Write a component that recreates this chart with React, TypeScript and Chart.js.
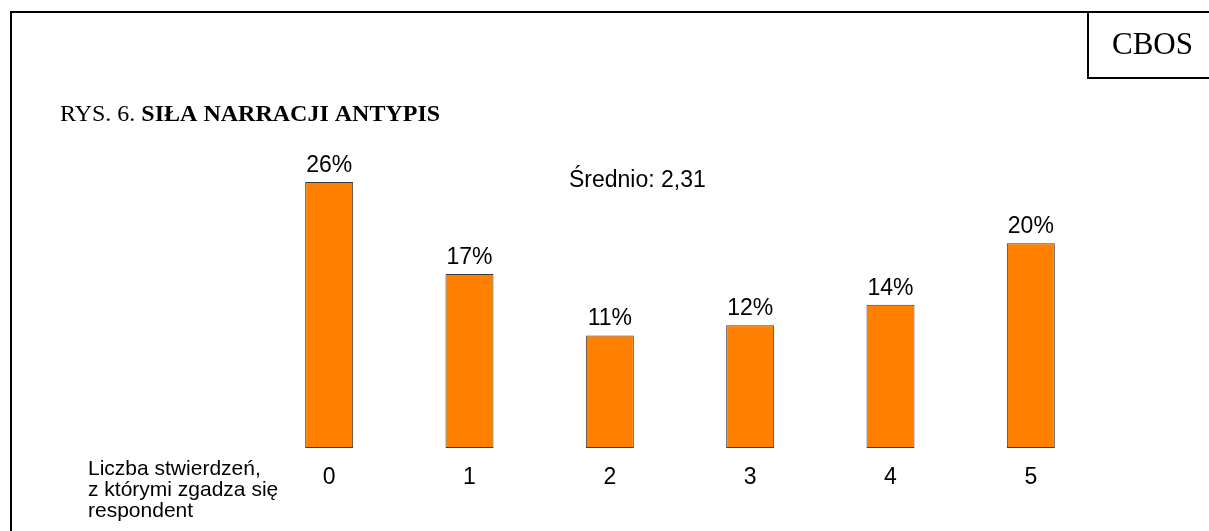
import React, { useEffect, useRef } from "react";
import { Chart, registerables } from "chart.js";

Chart.register(...registerables);

const categories = ["0", "1", "2", "3", "4", "5"];
const values = [26, 17, 11, 12, 14, 20];
const valueLabels = ["26%", "17%", "11%", "12%", "14%", "20%"];
const titleRegular = "RYS. 6. ";
const titleBold = "SIŁA NARRACJI ANTYPIS";
const meanLabel = "Średnio: 2,31";
const axisTitleLines = ["Liczba stwierdzeń,", "z którymi zgadza się", "respondent"];
const badge = "CBOS";

const SANS = "'Liberation Sans', Arial, sans-serif";
const SERIF = "'Liberation Serif', 'Times New Roman', serif";

const decorPlugin = {
  id: "decor",
  beforeDraw(chart: any) {
    const ctx = chart.ctx;
    ctx.save();
    ctx.fillStyle = "#ffffff";
    ctx.fillRect(0, 0, chart.width, chart.height);
    ctx.strokeStyle = "#000000";
    ctx.lineWidth = 2;
    ctx.beginPath();
    ctx.moveTo(11, chart.height);
    ctx.lineTo(11, 12);
    ctx.lineTo(chart.width, 12);
    ctx.moveTo(1088, 11);
    ctx.lineTo(1088, 78);
    ctx.lineTo(chart.width, 78);
    ctx.stroke();

    ctx.fillStyle = "#000000";
    ctx.textBaseline = "alphabetic";
    ctx.textAlign = "left";
    ctx.font = `31px ${SERIF}`;
    ctx.fillText(badge, 1112, 54);

    ctx.font = `24px ${SERIF}`;
    ctx.fillText(titleRegular, 60, 121);
    const w = ctx.measureText(titleRegular).width;
    ctx.font = `bold 24px ${SERIF}`;
    ctx.fillText(titleBold, 60 + w, 121);

    ctx.font = `23px ${SANS}`;
    ctx.fillText(meanLabel, 569, 187);

    ctx.font = `21px ${SANS}`;
    axisTitleLines.forEach((line, i) => {
      ctx.fillText(line, 88, 475 + i * 21);
    });
    ctx.restore();
  },
  afterDatasetsDraw(chart: any) {
    const ctx = chart.ctx;
    const meta = chart.getDatasetMeta(0);
    ctx.save();
    ctx.fillStyle = "#000000";
    ctx.font = `23px ${SANS}`;
    ctx.textAlign = "center";
    ctx.textBaseline = "alphabetic";
    meta.data.forEach((bar: any, i: number) => {
      ctx.fillText(valueLabels[i], bar.x, bar.y - 10);
    });
    ctx.restore();
  },
};

export default function App() {
  const ref = useRef<HTMLCanvasElement | null>(null);
  useEffect(() => {
    if (!ref.current) return;
    const chart = new Chart(ref.current, {
      type: "bar",
      data: {
        labels: categories,
        datasets: [
          {
            data: values,
            backgroundColor: "#FF8000",
            borderColor: "#3a3a3a",
            borderWidth: 1,
            borderSkipped: false,
            categoryPercentage: 1,
            barPercentage: 0.342,
          },
        ],
      },
      options: {
        responsive: false,
        animation: false,
        events: [],
        layout: { padding: { left: 259, right: 108, top: 141, bottom: 33 } },
        plugins: { legend: { display: false }, tooltip: { enabled: false } },
        scales: {
          x: {
            grid: { display: false, drawTicks: false },
            border: { display: false },
            ticks: { color: "#000000", font: { size: 23, family: SANS }, padding: 16 },
            afterFit: (scale: any) => {
              scale.height = 50;
            },
          },
          y: { display: false, min: 0, max: 30 },
        },
      },
      plugins: [decorPlugin],
    });
    return () => chart.destroy();
  }, []);
  return (
    <div style={{ position: "absolute", left: 0, top: 0, width: 1209, height: 531 }}>
      <canvas ref={ref} width={1209} height={531} style={{ display: "block" }} />
    </div>
  );
}
